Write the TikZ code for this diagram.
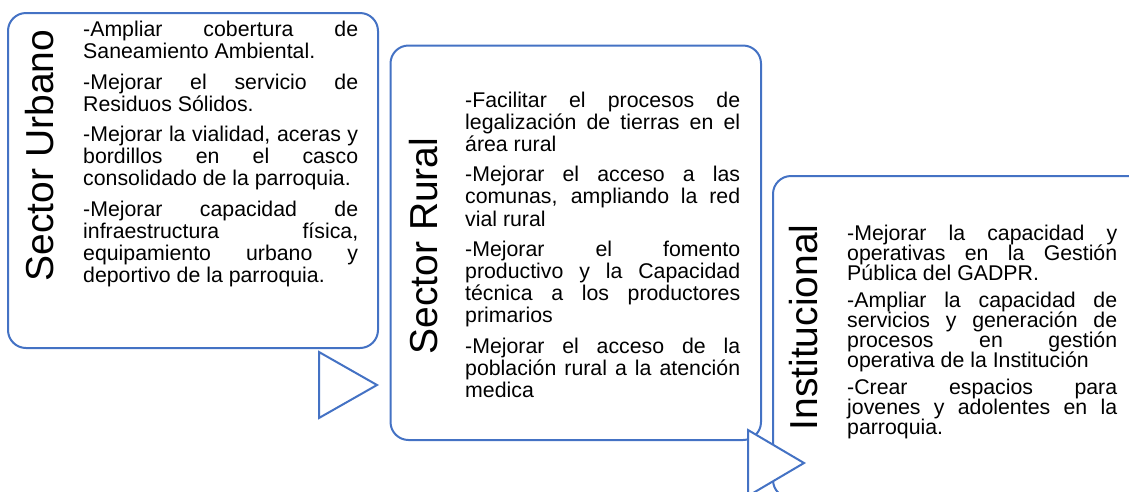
\documentclass[tikz,border=0pt]{standalone}
\usepackage{fontspec}
\setmainfont{Liberation Sans}
\definecolor{boxblue}{HTML}{4472C4}
\hbadness=10000
\tolerance=10000
\hyphenpenalty=10000
\newcommand\bodyA{\fontsize{21.3}{22.2}\selectfont\baselineskip=22.2pt\lineskiplimit=-40pt\parskip=8pt\parindent=0pt\relax}
\newcommand\bodyC{\fontsize{21.3}{20}\selectfont\baselineskip=20pt\lineskiplimit=-40pt\parskip=7pt\parindent=0pt\relax}
\begin{document}
\begin{tikzpicture}[x=1pt,y=-1pt,
  panel/.style={draw=boxblue, line width=2pt, rounded corners=18pt, fill=white},
  arrowtri/.style={draw=boxblue, line width=2pt, fill=white, line join=miter},
  title/.style={rotate=90, anchor=base, inner sep=0pt, font=\fontsize{39}{39}\selectfont},
  body/.style={anchor=base west, inner sep=0pt, align=justify}]
\useasboundingbox (0,0) rectangle (1129,491);
\clip (0,0) rectangle (1129,491);
% panels and arrow triangles
\draw[panel] (8,13) rectangle (378,348);
\draw[arrowtri] (319,352) -- (319,418) -- (377,385) -- cycle;
\draw[panel] (390.5,45.5) rectangle (761,440);
\draw[panel] (773,176) rectangle (1170,498);
\draw[arrowtri] (748,430) -- (748,496) -- (804,463) -- cycle;
% titles
\node[title] (urbtitle) at (53,155.5) {Sector Urbano};
\node[title] (ruraltitle) at (437,246) {Sector Rural};
\node[title] (insttitle) at (817,327.5) {Institucional};
% texts
\node[body, text width=275pt] (urbtext) at (83,36.7) {\bodyA -Ampliar cobertura de\linebreak Saneamiento Ambiental.\par
-Mejorar el servicio de\linebreak Residuos Sólidos.\par
-Mejorar la vialidad, aceras y\linebreak bordillos en el casco\linebreak consolidado de la parroquia.\par
-Mejorar capacidad de\linebreak infraestructura física,\linebreak equipamiento urbano y\linebreak deportivo de la parroquia.\par};
\node[body, text width=275pt] (ruraltext) at (465,107) {\bodyA -Facilitar el procesos de\linebreak legalización de tierras en el\linebreak área rural\par
-Mejorar el acceso a las\linebreak comunas, ampliando la red\linebreak vial rural\par
-Mejorar el fomento\linebreak productivo y la Capacidad\linebreak técnica a los productores\linebreak primarios\par
-Mejorar el acceso de la\linebreak población rural a la atención\linebreak medica\par};
\node[body, text width=270pt] (insttext) at (847,240.7) {\bodyC -Mejorar la capacidad y\linebreak operativas en la Gestión\linebreak Pública del GADPR.\par
-Ampliar la capacidad de\linebreak servicios y generación de\linebreak procesos en gestión\linebreak operativa de la Institución\par
-Crear espacios para\linebreak jovenes y adolentes en la\linebreak parroquia.\par};
\end{tikzpicture}
\end{document}
